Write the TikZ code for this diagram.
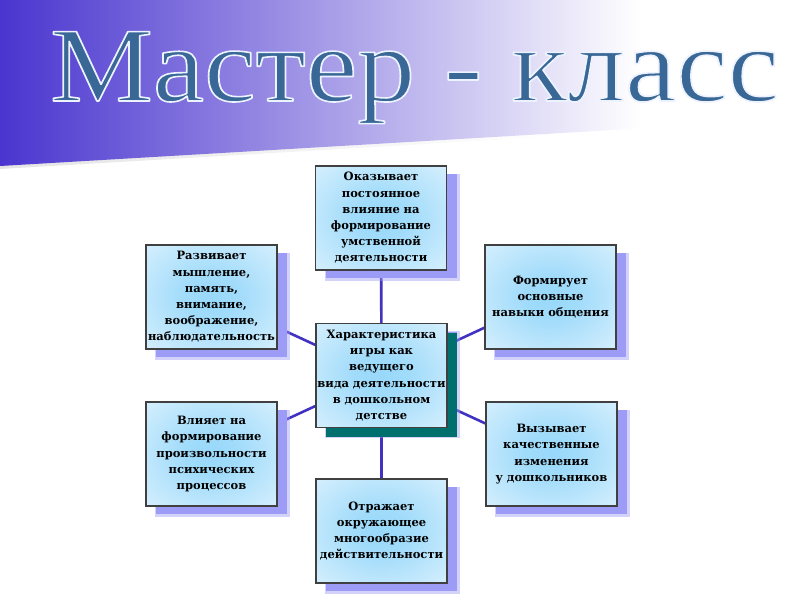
\documentclass[tikz,border=0pt]{standalone}
\usepackage{fontspec}
\setmainfont{DejaVu Serif}
\newfontfamily\titlefont{Liberation Serif}
\usetikzlibrary{shadows,backgrounds,positioning}

\definecolor{fondo}{HTML}{4A35CF}
\definecolor{cajaazul}{HTML}{98D8FA}
\definecolor{sombra}{HTML}{9C9CF6}
\definecolor{sombracentro}{HTML}{00706E}
\definecolor{enlace}{HTML}{4232C2}
\definecolor{titulo}{HTML}{3A6896}
\definecolor{borde}{HTML}{404040}

% degradados
\pgfdeclarehorizontalshading{banda}{100bp}{color(0bp)=(fondo); color(25bp)=(fondo);
  color(65bp)=(white); color(100bp)=(white)}
\pgfdeclarehorizontalshading{bandasombra}{100bp}{color(0bp)=(black!30); color(25bp)=(black!30);
  color(60bp)=(white); color(100bp)=(white)}
\pgfdeclareradialshading{cajafondo}{\pgfpoint{0bp}{0bp}}{color(0bp)=(cajaazul);
  color(10bp)=(cajaazul!92!white); color(42bp)=(cajaazul!28!white); color(60bp)=(white)}

% contorno blanco de las letras del titulo
\newcommand\contorno[1]{\special{pdf:literal direct 2 Tr 1 j 1.6 w 0.93 0.95 1 RG}#1%
  \special{pdf:literal direct 0 Tr}}

\tikzset{
  caja/.style={
    rectangle, draw=borde, line width=1.1pt, shading=cajafondo,
    text width=131pt, minimum height=104pt, inner sep=0pt,
    align=center, font=\bfseries\fontsize{11.5}{16.2}\selectfont,
    drop shadow={fill=sombra, opacity=0.45,
      shadow xshift=11pt, shadow yshift=-9pt, shadow scale=1.03},
    drop shadow={fill=sombra, opacity=1,
      shadow xshift=10pt, shadow yshift=-8pt}},
  cajacentro/.style={
    caja, drop shadow={fill=sombracentro, opacity=1,
      shadow xshift=10pt, shadow yshift=-9pt}},
  enlace/.style={draw=enlace, line width=2.6pt},
  letrero/.style={
    font=\titlefont\fontsize{106}{106}\selectfont, text=titulo,
    anchor=base west, inner sep=0pt}
}

\begin{document}
\begin{tikzpicture}[x=1pt, y=-1pt]
\useasboundingbox (0,0) rectangle (800,600);

% banda de fondo
\shade[shading=bandasombra, opacity=0.35]
  (0,0) -- (800,0) -- (800,122) -- (0,169) -- cycle;
\shade[shading=banda]
  (0,0) -- (800,0) -- (800,119) -- (0,166) -- cycle;

% titulo
\node[letrero] (titulo) at (50,101) {\contorno{\scalebox{1.09}[1]{Мастер - класс}}};

% cajas
\node[cajacentro] (centro) at (381.5,375.5) {
  Характеристика\\ игры как\\ ведущего\\ вида деятельности\\ в дошкольном\\ детстве};

\node[caja] (influye) at (381,218) {
  Оказывает\\ постоянное\\ влияние на\\ формирование\\ умственной\\ деятельности};

\node[caja] (desarrolla) at (211.5,297) {
  Развивает\\ мышление,\\ память,\\ внимание,\\ воображение,\\ наблюдательность};

\node[caja] (forma) at (550.5,297) {
  Формирует\\ основные\\ навыки общения};

\node[caja] (procesos) at (211.5,454) {
  Влияет на\\ формирование\\ произвольности\\ психических\\ процессов};

\node[caja] (cambios) at (551.5,454) {
  Вызывает\\ качественные\\ изменения\\ у дошкольников};

\node[caja] (refleja) at (381.5,531) {
  Отражает\\ окружающее\\ многообразие\\ действительности};

% enlaces detras de las cajas
\begin{scope}[on background layer]
  \foreach \caja in {influye,desarrolla,forma,procesos,cambios,refleja}
    \draw[enlace] (centro.center) -- (\caja.center);
\end{scope}

\end{tikzpicture}
\end{document}
